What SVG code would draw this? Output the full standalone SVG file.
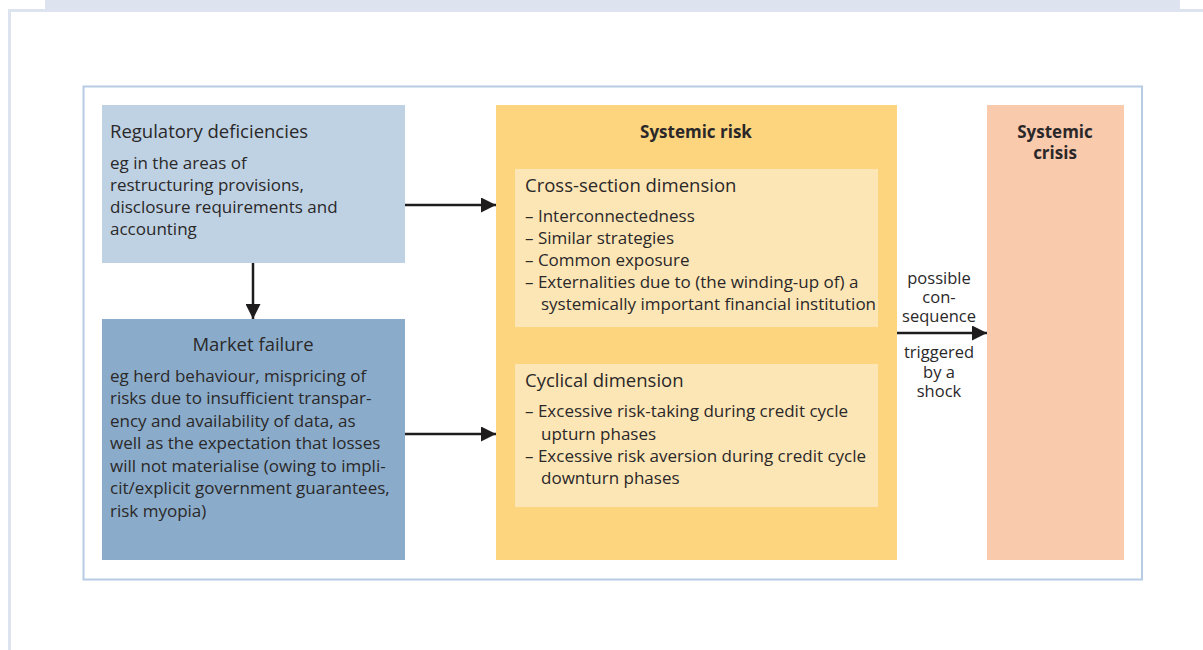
<svg xmlns="http://www.w3.org/2000/svg" width="1203" height="650" viewBox="0 0 1203 650">
<defs>
<style>
text{font-family:"Open Sans","Noto Sans","Liberation Sans",sans-serif;fill:#2a2829;font-size:17px}
.h{font-size:18.5px}
.b{font-weight:bold;font-size:17px}
.c{text-anchor:middle}
.a{font-size:16.5px}
.ln{stroke:#1f1c1d;stroke-width:2.5;fill:none}
</style>
<marker id="ah" viewBox="0 0 10 10" refX="10" refY="5" markerWidth="19" markerHeight="15" markerUnits="userSpaceOnUse" orient="auto">
<path d="M0,0L10,5L0,10z" fill="#1f1c1d"/>
</marker>
<marker id="ah2" viewBox="0 0 10 10" refX="10" refY="5" markerWidth="19" markerHeight="15" markerUnits="userSpaceOnUse" orient="auto">
<path d="M0,0L10,5L0,10z" fill="#1f1c1d"/>
</marker>
</defs>
<rect x="0" y="0" width="1203" height="650" fill="#ffffff"/>
<g id="frame">
<rect x="45" y="0" width="1135" height="11" fill="#dde4ef"/>
<path d="M9.5,650V10.5H1203" fill="none" stroke="#dde4ef" stroke-width="3"/>
<rect x="83.5" y="86.5" width="1058.5" height="493" fill="none" stroke="#b8cbe5" stroke-width="2"/>
</g>
<g id="regulatory">
<rect x="102" y="105" width="303" height="158" fill="#bfd2e3"/>
<text class="h" x="110" y="138">Regulatory deficiencies</text>
<text x="110" y="169">eg in the areas of</text>
<text x="110" y="191">restructuring provisions,</text>
<text x="110" y="213">disclosure requirements and</text>
<text x="110" y="235">accounting</text>
</g>
<g id="market">
<rect x="102" y="319" width="303" height="241" fill="#8aacca"/>
<text class="h c" x="253" y="351">Market failure</text>
<text x="110" y="381.5">eg herd behaviour, mispricing of</text>
<text x="110" y="404">risks due to insufficient transpar-</text>
<text x="110" y="426.5">ency and availability of data, as</text>
<text x="110" y="449">well as the expectation that losses</text>
<text x="110" y="471.5">will not materialise (owing to impli-</text>
<text x="110" y="494">cit/explicit government guarantees,</text>
<text x="110" y="516.5">risk myopia)</text>
</g>
<g id="systemic-risk">
<rect x="496" y="105" width="401" height="455" fill="#fdd57e"/>
<text class="b c" x="696" y="137.5">Systemic risk</text>
<rect x="515" y="169" width="363" height="158" fill="#fde6b6"/>
<text class="h" x="525" y="191.5">Cross-section dimension</text>
<text x="525" y="221.5">– Interconnectedness</text>
<text x="525" y="243.5">– Similar strategies</text>
<text x="525" y="265.5">– Common exposure</text>
<text x="525" y="287.5">– Externalities due to (the winding-up of) a</text>
<text x="541" y="309.5">systemically important financial institution</text>
<rect x="515" y="364" width="363" height="143" fill="#fde6b6"/>
<text class="h" x="525" y="386.5">Cyclical dimension</text>
<text x="525" y="417">– Excessive risk-taking during credit cycle</text>
<text x="541" y="439.5">upturn phases</text>
<text x="525" y="462">– Excessive risk aversion during credit cycle</text>
<text x="541" y="484">downturn phases</text>
</g>
<g id="systemic-crisis">
<rect x="987" y="105" width="137" height="455" fill="#facaad"/>
<text class="b c" x="1055" y="138"><tspan x="1055" y="138">Systemic</tspan><tspan x="1055" y="159">crisis</tspan></text>
</g>
<g id="connectors">
<line class="ln" x1="405" y1="205" x2="496" y2="205" marker-end="url(#ah)"/>
<line class="ln" x1="253" y1="263" x2="253" y2="319" marker-end="url(#ah)"/>
<line class="ln" x1="405" y1="434" x2="496" y2="434" marker-end="url(#ah)"/>
<line class="ln" x1="897" y1="333" x2="987" y2="333" stroke-width="3.5" marker-end="url(#ah2)"/>
<text class="c a" x="939" y="284"><tspan x="939" y="284">possible</tspan><tspan x="939" y="303">con-</tspan><tspan x="939" y="321.5">sequence</tspan></text>
<text class="c a" x="939" y="358"><tspan x="939" y="358">triggered</tspan><tspan x="939" y="378">by a</tspan><tspan x="939" y="397">shock</tspan></text>
</g>
</svg>
